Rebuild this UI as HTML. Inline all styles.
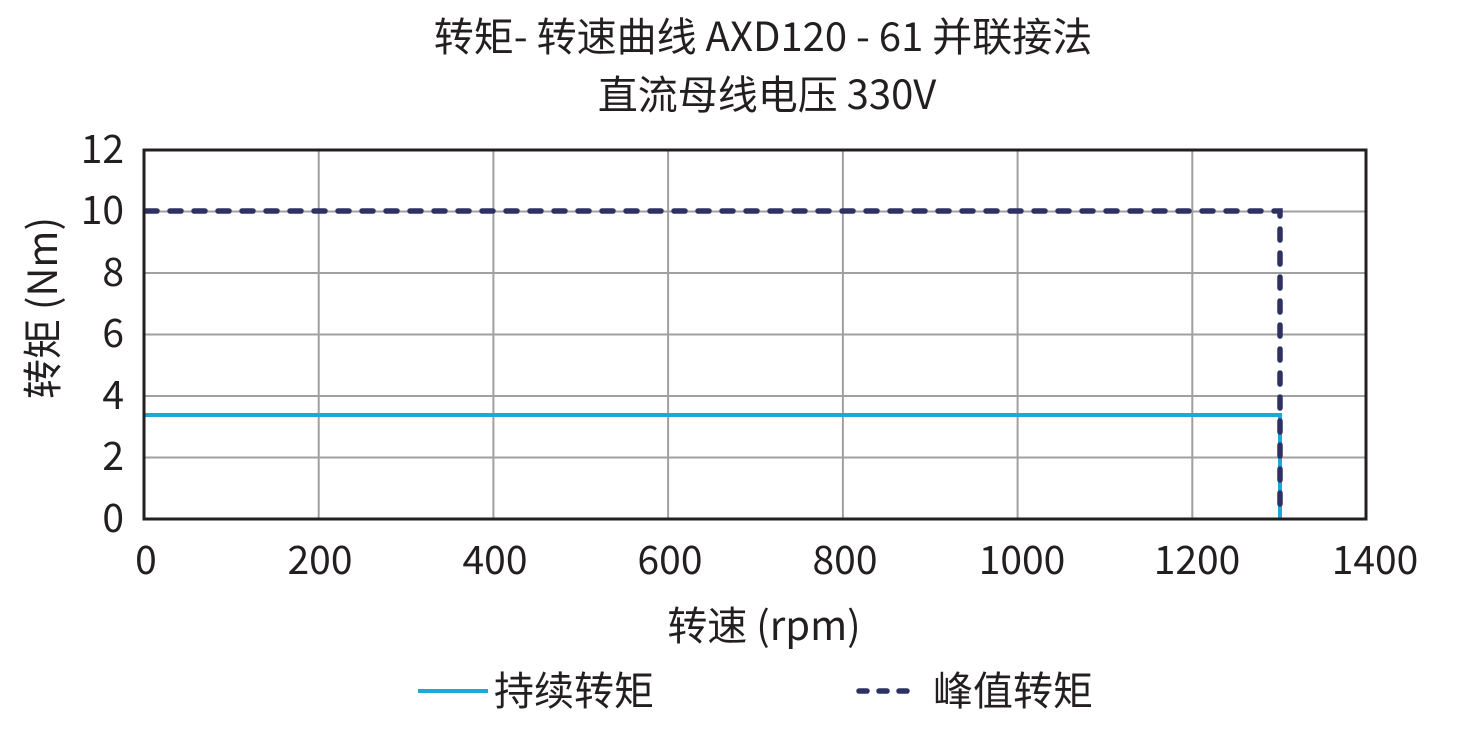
<!DOCTYPE html>
<html><head><meta charset="utf-8"><style>
html,body{margin:0;padding:0;background:#fff;}
svg{display:block;}
text{font-family:"Noto Sans CJK SC","Liberation Sans",sans-serif;fill:#231f20;}
</style></head><body>
<svg width="1458" height="744" viewBox="0 0 1458 744" xmlns="http://www.w3.org/2000/svg">
<text x="763" y="51" font-size="40" text-anchor="middle">转矩- 转速曲线 AXD120 - 61 并联接法</text>
<text x="767" y="109" font-size="40" text-anchor="middle">直流母线电压 330V</text>
<g stroke="#a0a0a0" stroke-width="2">
<line x1="318.7" y1="150" x2="318.7" y2="519"/>
<line x1="493.4" y1="150" x2="493.4" y2="519"/>
<line x1="668.1" y1="150" x2="668.1" y2="519"/>
<line x1="842.9" y1="150" x2="842.9" y2="519"/>
<line x1="1017.6" y1="150" x2="1017.6" y2="519"/>
<line x1="1192.3" y1="150" x2="1192.3" y2="519"/>
<line x1="144" y1="211.5" x2="1366" y2="211.5"/>
<line x1="144" y1="273" x2="1366" y2="273"/>
<line x1="144" y1="334.5" x2="1366" y2="334.5"/>
<line x1="144" y1="396" x2="1366" y2="396"/>
<line x1="144" y1="457.5" x2="1366" y2="457.5"/>
</g>
<polyline points="144,415 1280,415 1280,519" fill="none" stroke="#1ea7dc" stroke-width="4"/>
<polyline points="146,211 1280,211 1280,517" fill="none" stroke="#2e3262" stroke-width="5.5" stroke-linecap="round" stroke-dasharray="11 13"/>
<rect x="144" y="150" width="1222" height="369" fill="none" stroke="#231f20" stroke-width="3"/>
<g font-size="39" text-anchor="end">
<text x="124" y="163">12</text>
<text x="124" y="224">10</text>
<text x="124" y="286">8</text>
<text x="124" y="347">6</text>
<text x="124" y="409">4</text>
<text x="124" y="470">2</text>
<text x="124" y="532">0</text>
</g>
<g font-size="39" text-anchor="middle">
<text x="146" y="574">0</text>
<text x="320" y="574">200</text>
<text x="495" y="574">400</text>
<text x="670" y="574">600</text>
<text x="845" y="574">800</text>
<text x="1022" y="574">1000</text>
<text x="1197" y="574">1200</text>
<text x="1375" y="574">1400</text>
</g>
<text x="764" y="640" font-size="40" text-anchor="middle">转速 (rpm)</text>
<text transform="translate(57,308) rotate(-90)" font-size="40" text-anchor="middle">转矩 (Nm)</text>
<line x1="418" y1="691" x2="488" y2="691" stroke="#1ea7dc" stroke-width="4"/>
<text x="494" y="705" font-size="40">持续转矩</text>
<line x1="859" y1="691" x2="918" y2="691" stroke="#2e3262" stroke-width="5.5" stroke-linecap="round" stroke-dasharray="8 12"/>
<text x="933" y="705" font-size="40">峰值转矩</text>
</svg>
</body></html>
